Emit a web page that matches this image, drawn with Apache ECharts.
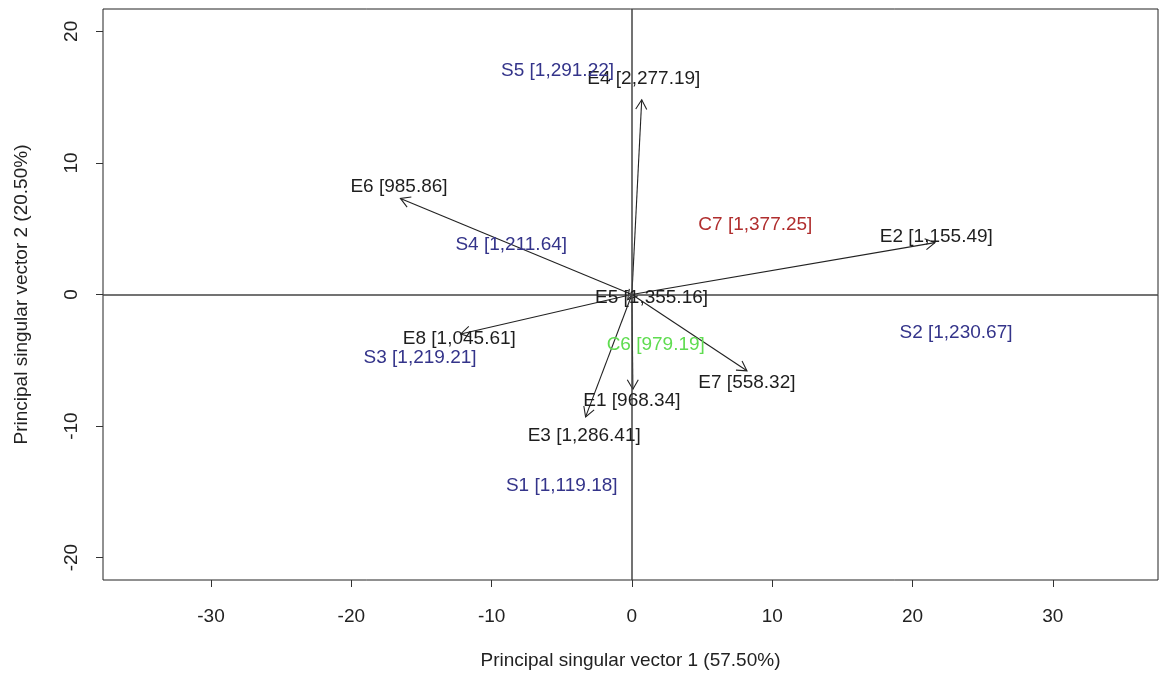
<!DOCTYPE html>
<html>
<head>
<meta charset="utf-8">
<script src="https://cdn.jsdelivr.net/npm/echarts@6/dist/echarts.min.js"></script>
<style>
html,body{margin:0;padding:0;background:#fff;}
#chart{width:1161px;height:675px;}
</style>
</head>
<body>
<div id="chart"></div>
<script>
// Environment vectors (arrow tips) and their label positions
const envNames = ['E1 [968.34]','E2 [1,155.49]','E3 [1,286.41]','E4 [2,277.19]','E5 [1,355.16]','E6 [985.86]','E7 [558.32]','E8 [1,045.61]'];
const envX = [0.07, 21.6, -3.3, 0.7, -0.3, -16.5, 8.2, -12.2];
const envY = [-7.2, 3.94, -9.3, 14.8, -0.4, 7.3, -5.8, -3.0];
const envLabelX = [0.0, 21.7, -3.4, 0.85, 1.4, -16.6, 8.2, -12.3];
const envLabelY = [-8.1, 4.4, -10.7, 16.4, -0.25, 8.2, -6.7, -3.4];

// S genotypes (blue labels)
const sNames = ['S1 [1,119.18]','S2 [1,230.67]','S3 [1,219.21]','S4 [1,211.64]','S5 [1,291.22]'];
const sX = [-5.0, 23.1, -15.1, -8.6, -5.3];
const sY = [-14.5, -2.9, -4.8, 3.8, 17.0];

// C genotypes
const cNames = ['C6 [979.19]','C7 [1,377.25]'];
const cX = [1.7, 8.8];
const cY = [-3.8, 5.3];

const xTicks = [-30,-20,-10,0,10,20,30];
const yTicks = [-20,-10,0,10,20];

const FONT = 'Liberation Sans, Arial, sans-serif';

const chart = echarts.init(document.getElementById('chart'));

function labelSeries(names, xs, ys, color, z) {
  return {
    type: 'scatter',
    symbolSize: 0,
    z: z,
    silent: true,
    itemStyle: { opacity: 1 },
    data: names.map((n, i) => ({ name: n, value: [xs[i], ys[i]] })),
    label: {
      show: true,
      position: 'inside',
      formatter: p => p.name,
      color: color,
      opacity: 1,
      fontSize: 19,
      fontFamily: FONT
    }
  };
}

const option = {
  animation: false,
  backgroundColor: '#fff',
  grid: {
    left: 103, right: 3, top: 9, bottom: 94,
    show: true, borderColor: '#222', borderWidth: 1, backgroundColor: 'transparent'
  },
  xAxis: {
    type: 'value', min: -37.7, max: 37.5,
    name: 'Principal singular vector 1 (57.50%)',
    nameLocation: 'middle', nameGap: 71,
    nameTextStyle: { fontSize: 19, color: '#222', fontFamily: FONT },
    splitLine: { show: false },
    axisLine: { show: false, onZero: false },
    axisTick: { show: true, length: 7, customValues: xTicks, lineStyle: { color: '#333' } },
    axisLabel: { customValues: xTicks, fontSize: 19, color: '#222', fontFamily: FONT, margin: 27 }
  },
  yAxis: {
    type: 'value', min: -21.7, max: 21.7,
    name: 'Principal singular vector 2 (20.50%)',
    nameLocation: 'middle', nameGap: 72,
    nameTextStyle: { fontSize: 19, color: '#222', fontFamily: FONT },
    splitLine: { show: false },
    axisLine: { show: false, onZero: false },
    axisTick: { show: true, length: 7, customValues: yTicks, lineStyle: { color: '#333' } },
    axisLabel: { customValues: yTicks, rotate: 90, fontSize: 19, color: '#222', fontFamily: FONT, margin: 22 }
  },
  series: [
    {
      type: 'line',
      data: [],
      silent: true,
      markLine: {
        silent: true, symbol: 'none', animation: false,
        label: { show: false },
        lineStyle: { color: '#444', width: 1.5, type: 'solid', opacity: 1 },
        data: [{ xAxis: 0 }, { yAxis: 0 }]
      }
    },
    {
      type: 'custom',
      silent: true,
      z: 3,
      data: envX.map((x, i) => [x, envY[i]]),
      renderItem: function (params, api) {
        const p0 = api.coord([0, 0]);
        const p1 = api.coord([api.value(0), api.value(1)]);
        const ang = Math.atan2(p1[1] - p0[1], p1[0] - p0[0]);
        const L = 11, a = Math.PI / 6;
        const h1 = [p1[0] - L * Math.cos(ang - a), p1[1] - L * Math.sin(ang - a)];
        const h2 = [p1[0] - L * Math.cos(ang + a), p1[1] - L * Math.sin(ang + a)];
        const st = { stroke: '#222', lineWidth: 1.1, fill: null };
        return {
          type: 'group',
          children: [
            { type: 'line', shape: { x1: p0[0], y1: p0[1], x2: p1[0], y2: p1[1] }, style: st },
            { type: 'polyline', shape: { points: [h1, p1, h2] }, style: st }
          ]
        };
      }
    },
    labelSeries(envNames, envLabelX, envLabelY, '#1e1e1e', 5),
    labelSeries(sNames, sX, sY, '#34348a', 5),
    labelSeries([cNames[0]], [cX[0]], [cY[0]], '#5fdc50', 5),
    labelSeries([cNames[1]], [cX[1]], [cY[1]], '#b02e2e', 5)
  ]
};
chart.setOption(option);
</script>
</body>
</html>
